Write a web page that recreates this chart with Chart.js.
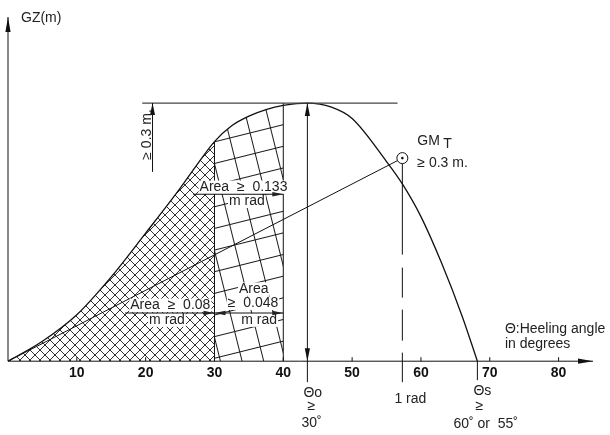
<!DOCTYPE html>
<html>
<head>
<meta charset="utf-8">
<script src="https://cdn.jsdelivr.net/npm/chart.js@4.4.1/dist/chart.umd.min.js"></script>
<style>
  html, body { margin: 0; padding: 0; background: #fff; }
  #wrap { width: 610px; height: 435px; }
</style>
</head>
<body>
<div id="wrap"><canvas id="gz"></canvas></div>
<script>
// GZ curve (righting lever, m) against heeling angle (deg)
const angles = [0, 5, 10, 15, 20, 25, 27.5, 30, 32.5, 35, 37.5, 40, 43.5, 47, 50, 55, 57.3, 60, 63, 66, 68.2];
const gz     = [0, 0.058, 0.135, 0.245, 0.372, 0.502, 0.572, 0.638, 0.684, 0.712, 0.731, 0.743, 0.75, 0.738, 0.705, 0.58, 0.515, 0.42, 0.285, 0.13, 0];
const tickVals = [10, 20, 30, 40, 50, 60, 70, 80];

// criteria marks
const areaLimits = [30, 40];   // hatched areas 0-30 and 30-40
const gzMax = 0.75;
const thetaMax = 43.5;
const oneRad = 57.3;
const gmPoint = 0.59;
const thetaS = 68.2;

const family = '"Liberation Sans", Arial, Helvetica, sans-serif';
const ink = '#111';

function crossPattern() {
  const c = document.createElement('canvas');
  c.width = 10; c.height = 10;
  const g = c.getContext('2d');
  g.strokeStyle = '#1a1a1a'; g.lineWidth = 0.9;
  g.beginPath();
  g.moveTo(-1, -1); g.lineTo(11, 11);
  g.moveTo(11, -1); g.lineTo(-1, 11);
  g.stroke();
  return g.createPattern(c, 'repeat');
}

function gridPattern() {
  const s = 21;
  const c = document.createElement('canvas');
  c.width = s; c.height = s;
  const g = c.getContext('2d');
  g.strokeStyle = '#1a1a1a'; g.lineWidth = 1;
  g.beginPath();
  g.moveTo(0, 0.5); g.lineTo(s, 0.5);
  g.moveTo(0.5, 0); g.lineTo(0.5, s);
  g.stroke();
  const p = g.createPattern(c, 'repeat');
  p.setTransform(new DOMMatrix().rotateSelf(-14));
  return p;
}

const cross = crossPattern();
const grid = gridPattern();

function region(i) {
  const a = angles[i];
  if (a < areaLimits[0]) return 0;
  if (a < areaLimits[1]) return 1;
  return 2;
}

function seg(ctx, x1, y1, x2, y2) {
  ctx.beginPath(); ctx.moveTo(x1, y1); ctx.lineTo(x2, y2); ctx.stroke();
}

function head(ctx, x, y, ang, len = 13, hw = 2.6) {
  ctx.save();
  ctx.translate(x, y); ctx.rotate(ang);
  ctx.beginPath();
  ctx.moveTo(0, 0); ctx.lineTo(-len, -hw); ctx.lineTo(-len, hw);
  ctx.closePath(); ctx.fill();
  ctx.restore();
}

function txt(ctx, s, x, y, align = 'left', bg = false, size = 14) {
  ctx.font = `${size}px ${family}`;
  ctx.textAlign = align;
  ctx.textBaseline = 'alphabetic';
  if (bg) {
    const w = ctx.measureText(s).width;
    const x0 = align === 'center' ? x - w / 2 : align === 'right' ? x - w : x;
    ctx.fillStyle = '#fff';
    ctx.fillRect(x0 - 1, y - size * 0.76, w + 2, size * 0.96);
  }
  ctx.fillStyle = '#222';
  ctx.fillText(s, x, y);
}

const marks = {
  id: 'marks',
  afterDraw(chart) {
    const {ctx, scales: {x, y}} = chart;
    const X = v => x.getPixelForValue(v);
    const Y = v => y.getPixelForValue(v);
    const i30 = angles.indexOf(areaLimits[0]);

    ctx.save();
    ctx.strokeStyle = ink; ctx.fillStyle = ink; ctx.lineWidth = 1;

    // axes with arrows
    seg(ctx, X(0), Y(0), X(85), Y(0));
    head(ctx, X(85), Y(0), 0, 15, 2.6);
    seg(ctx, X(0), Y(0), X(0), Y(1));
    head(ctx, X(0), Y(1), -Math.PI / 2, 15, 2.6);
    tickVals.forEach(v => seg(ctx, X(v), Y(0), X(v), Y(0) - 4));

    // area boundaries
    seg(ctx, X(areaLimits[0]), Y(0), X(areaLimits[0]), Y(gz[i30]));
    seg(ctx, X(areaLimits[1]), Y(0), X(areaLimits[1]), Y(gzMax));

    // max GZ line and >= 0.3 m arrow
    ctx.strokeStyle = '#444';
    ctx.lineWidth = 1.3;
    seg(ctx, X(19.5), Y(gzMax), X(56.6), Y(gzMax));
    ctx.strokeStyle = ink;
    ctx.lineWidth = 1;
    seg(ctx, X(21), Y(gzMax), X(21), Y(0.55));
    head(ctx, X(21), Y(gzMax), -Math.PI / 2, 12, 2.5);

    // theta at max GZ
    seg(ctx, X(thetaMax), Y(gzMax), X(thetaMax), Y(-0.061));
    head(ctx, X(thetaMax), Y(gzMax), -Math.PI / 2, 13, 2.6);
    head(ctx, X(thetaMax), Y(0), Math.PI / 2, 13, 2.6);

    // vanishing angle
    seg(ctx, X(thetaS), Y(0), X(thetaS), Y(-0.055));

    // GM tangent and 1 rad
    const cx = X(oneRad), cy = Y(gmPoint), r = 5.5;
    const ang = Math.atan2(cy - Y(0), cx - X(0));
    seg(ctx, X(0), Y(0), cx - r * Math.cos(ang), cy - r * Math.sin(ang));
    ctx.beginPath(); ctx.arc(cx, cy, r, 0, Math.PI * 2); ctx.stroke();
    ctx.beginPath(); ctx.arc(cx, cy, 1.3, 0, Math.PI * 2); ctx.fill();
    ctx.setLineDash([91, 13, 30, 12, 31, 12, 30, 60]);
    seg(ctx, cx, cy + r, cx, Y(-0.061));
    ctx.setLineDash([]);

    // area labels
    txt(ctx, 'Area  \u2265  0.133', X(40.6), Y(0.494), 'right', true);
    txt(ctx, 'm rad', X(34.7), Y(0.453), 'center', true);
    seg(ctx, X(26.9), Y(0.485), X(areaLimits[1]), Y(0.485));
    head(ctx, X(areaLimits[1]), Y(0.485), 0, 11, 2.2);

    txt(ctx, 'Area  \u2265  0.08', X(29.4), Y(0.151), 'right', true);
    txt(ctx, 'm rad', X(23.1), Y(0.108), 'center', true);
    txt(ctx, 'Area', X(35.7), Y(0.198), 'center', true);
    txt(ctx, '\u2265  0.048', X(35.6), Y(0.157), 'center', true);
    txt(ctx, 'm rad', X(36.5), Y(0.108), 'center', true);
    seg(ctx, X(17), Y(0.14), X(areaLimits[1]), Y(0.14));
    head(ctx, X(areaLimits[0]), Y(0.14), 0, 11, 2.2);
    head(ctx, X(areaLimits[0]), Y(0.14), Math.PI, 11, 2.2);
    head(ctx, X(areaLimits[1]), Y(0.14), 0, 11, 2.2);

    // rotated >= 0.3 m.
    ctx.save();
    ctx.translate(X(21) - 7, (Y(gzMax) + Y(0.55)) / 2 - 3);
    ctx.rotate(-Math.PI / 2);
    txt(ctx, '\u2265 0.3 m.', 0, 5, 'center');
    ctx.restore();

    // axis titles
    txt(ctx, 'GZ(m)', X(0) + 13, Y(1) + 5);
    txt(ctx, '\u0398:Heeling angle', X(72.2), Y(0.083));
    txt(ctx, 'in degrees', X(72.2), Y(0.039));

    // GM label
    txt(ctx, 'GM', cx + 15, cy - 13);
    txt(ctx, 'T', cx + 41, cy - 10);
    txt(ctx, '\u2265 0.3 m.', cx + 15, cy + 9);

    // angle notes below the axis
    txt(ctx, '1 rad', cx + 8, Y(0) + 42, 'center');
    const ox = X(thetaMax);
    txt(ctx, '\u0398o', ox - 4, Y(0) + 36);
    txt(ctx, '\u2265', ox, Y(0) + 49);
    txt(ctx, '30\u02DA', ox - 6, Y(0) + 66);
    const sx = X(thetaS);
    txt(ctx, '\u0398s', sx - 4, Y(0) + 34);
    txt(ctx, '\u2265', sx - 2, Y(0) + 49);
    txt(ctx, '60\u02DA or  55\u02DA', sx - 24, Y(0) + 67);

    ctx.restore();
  }
};

new Chart(document.getElementById('gz'), {
  type: 'line',
  data: {
    datasets: [{
      label: 'GZ',
      data: angles.map((a, i) => ({x: a, y: gz[i]})),
      borderColor: ink,
      borderWidth: 1.3,
      pointRadius: 0,
      cubicInterpolationMode: 'monotone',
      fill: 'origin',
      backgroundColor: 'rgba(0,0,0,0)',
      segment: {
        backgroundColor: c => [cross, grid, 'rgba(0,0,0,0)'][region(c.p0DataIndex)],
        // keeps the three fill regions apart (patterns compare equal otherwise)
        borderDashOffset: c => region(c.p0DataIndex)
      }
    }]
  },
  options: {
    responsive: true,
    maintainAspectRatio: false,
    animation: false,
    layout: { padding: { left: 8, top: 17, right: 17, bottom: 49 } },
    plugins: { legend: { display: false }, tooltip: { enabled: false } },
    scales: {
      x: {
        type: 'linear', min: 0, max: 85,
        afterBuildTicks: ax => { ax.ticks = tickVals.map(v => ({value: v})); },
        grid: { display: false, drawTicks: false },
        border: { display: false },
        ticks: { padding: 4, color: '#111', autoSkip: false, maxRotation: 0,
                 font: { family: family, size: 14, weight: 'bold' } }
      },
      y: { type: 'linear', min: 0, max: 1, display: false }
    }
  },
  plugins: [marks]
});
</script>
</body>
</html>
